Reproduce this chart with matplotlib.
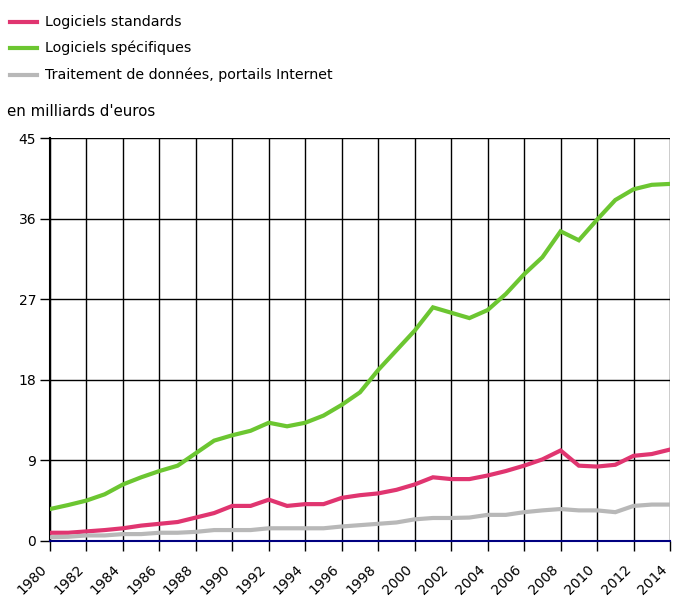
import matplotlib
matplotlib.use("Agg")
import matplotlib.pyplot as plt
from matplotlib.transforms import ScaledTranslation

years = list(range(1980, 2015))
standards = [0.9, 0.9, 1.05, 1.2, 1.4, 1.7, 1.9, 2.1, 2.6, 3.1, 3.9, 3.9, 4.6, 3.9, 4.1, 4.1,
             4.8, 5.1, 5.3, 5.7, 6.3, 7.1, 6.9, 6.9, 7.3, 7.8, 8.4, 9.1, 10.1, 8.4, 8.3, 8.5,
             9.5, 9.7, 10.2]
specifiques = [3.55, 4.0, 4.5, 5.2, 6.3, 7.1, 7.8, 8.4, 9.8, 11.2, 11.8, 12.3, 13.2, 12.8, 13.2, 14.0,
               15.2, 16.6, 19.1, 21.3, 23.5, 26.1, 25.5, 24.9, 25.8, 27.6, 29.8, 31.7, 34.6, 33.6,
               35.9, 38.1, 39.3, 39.8, 39.9]
traitement = [0.4, 0.45, 0.6, 0.6, 0.75, 0.75, 0.9, 0.9, 1.0, 1.2, 1.2, 1.2, 1.4, 1.4, 1.4, 1.4,
              1.6, 1.75, 1.9, 2.05, 2.4, 2.55, 2.55, 2.6, 2.9, 2.9, 3.2, 3.4, 3.55, 3.4, 3.4, 3.2,
              3.9, 4.05, 4.05]
series_labels = ["Logiciels standards", "Logiciels spécifiques", "Traitement de données, portails Internet"]
colors = ["#e03570", "#6cc631", "#b8b8b8"]
yticks = [0, 9, 18, 27, 36, 45]
xticks = list(range(1980, 2015, 2))

W, H = 674, 597
fig = plt.figure(figsize=(W / 100, H / 100), dpi=100)
ax = fig.add_axes([50 / W, 1 - 540.8 / H, (670 - 50) / W, (540.8 - 138.3) / H])

for vals, c in zip([standards, specifiques, traitement], colors):
    ax.plot(years, vals, color=c, lw=3.0, solid_joinstyle="miter", zorder=3)

ax.set_xlim(1980, 2014)
ax.set_ylim(0, 45)
ax.set_yticks(yticks)
ax.set_xticks(xticks)
ax.set_xticklabels([str(x) for x in xticks], rotation=45, ha="right", va="center",
                   rotation_mode="anchor")
ax.tick_params(axis="both", labelsize=10, length=7, width=1, color="black", direction="out")
ax.tick_params(axis="x", pad=12)
ax.tick_params(axis="y", pad=3)
off = ScaledTranslation(-5 / 100, 0, fig.dpi_scale_trans)
for lab in ax.get_xticklabels():
    lab.set_transform(lab.get_transform() + off)
ax.grid(True, color="black", lw=1.0, zorder=1)
for s in ["top", "right"]:
    ax.spines[s].set_visible(False)
ax.spines["left"].set_linewidth(1.5)
ax.spines["bottom"].set_visible(False)
ax.axhline(0, color="#000080", lw=1.5, zorder=4, clip_on=False)

# legend drawn manually
leg_y = [22, 48, 75]
for lbl, c, y in zip(series_labels, colors, leg_y):
    fig.add_artist(plt.Line2D([10 / W, 37 / W], [1 - y / H, 1 - y / H], color=c, lw=3.0))
    fig.text(45 / W, 1 - y / H, lbl, fontsize=10.3, va="center", ha="left")
fig.text(7 / W, 1 - 112 / H, "en milliards d'euros", fontsize=10.8, va="center", ha="left")

fig.savefig("out.png", dpi=100)
